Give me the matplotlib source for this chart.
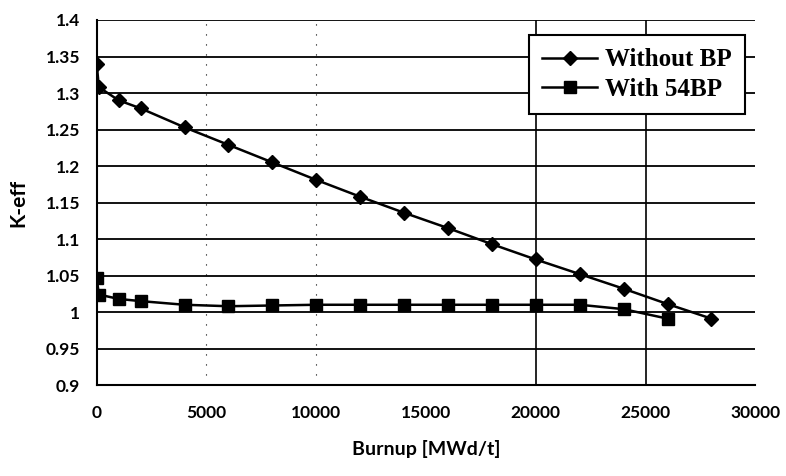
import matplotlib
matplotlib.use("Agg")
import matplotlib.pyplot as plt

# burnup [MWd/t] and k-eff
burnup_nobp = [0, 100, 1000, 2000, 4000, 6000, 8000, 10000, 12000, 14000,
               16000, 18000, 20000, 22000, 24000, 26000, 28000]
keff_nobp = [1.340, 1.308, 1.290, 1.279, 1.253, 1.229, 1.205, 1.181, 1.158,
             1.136, 1.115, 1.093, 1.072, 1.052, 1.032, 1.011, 0.991]

burnup_bp = [0, 100, 1000, 2000, 4000, 6000, 8000, 10000, 12000, 14000,
             16000, 18000, 20000, 22000, 24000, 26000]
keff_bp = [1.047, 1.024, 1.018, 1.015, 1.010, 1.008, 1.009, 1.010, 1.010,
           1.010, 1.010, 1.010, 1.010, 1.010, 1.004, 0.991]

xticks = [0, 5000, 10000, 15000, 20000, 25000, 30000]
yticks = [0.9, 0.95, 1, 1.05, 1.1, 1.15, 1.2, 1.25, 1.3, 1.35, 1.4]
ytick_labels = ["0.9", "0.95", "1", "1.05", "1.1", "1.15", "1.2", "1.25", "1.3", "1.35", "1.4"]

sans = ["Lato", "DejaVu Sans"]
tick_font = {"family": sans, "weight": "bold", "size": 12.5}

fig = plt.figure(figsize=(7.86, 4.76), dpi=100)
ax = fig.add_axes([0.123, 0.191, 0.838, 0.767])

ax.plot(burnup_nobp, keff_nobp, color="black", lw=1.8, marker="D", ms=7,
        label="Without BP", zorder=3)
ax.plot(burnup_bp, keff_bp, color="black", lw=1.8, marker="s", ms=8,
        label="With 54BP", zorder=3)

ax.set_xlim(0, 30000)
ax.set_ylim(0.9, 1.4)
ax.set_xticks(xticks)
ax.set_yticks(yticks)
ax.set_xticklabels([str(t) for t in xticks], fontdict=tick_font)
ax.set_yticklabels(ytick_labels, fontdict=tick_font)
ax.tick_params(axis="x", length=0, pad=14)
ax.tick_params(axis="y", length=0, pad=12)

# horizontal grid solid; vertical grid lines faint except the last two
ax.yaxis.grid(True, color="black", lw=1.3)
for x in xticks[1:-1]:
    if x >= 20000:
        ax.axvline(x, color="black", lw=1.2, zorder=1)
    elif x <= 10000:
        ax.axvline(x, color="black", lw=0.8, ls=(0, (1, 8)), zorder=1)

for side in ["top", "right"]:
    ax.spines[side].set_visible(False)
ax.spines["left"].set_linewidth(1.5)
ax.spines["bottom"].set_linewidth(1.5)

ax.set_xlabel("Burnup [MWd/t]", fontdict={"family": sans, "weight": "bold", "size": 14},
              labelpad=14)
ax.set_ylabel("K-eff", fontdict={"family": sans, "weight": "bold", "size": 15},
              labelpad=12)

leg = ax.legend(loc="upper right", bbox_to_anchor=(0.985, 0.96), borderaxespad=0,
                frameon=True, fancybox=False, edgecolor="black", framealpha=1,
                borderpad=0.55, handlelength=2.2, handletextpad=0.3,
                labelspacing=0.25, numpoints=1,
                prop={"family": ["Liberation Serif", "DejaVu Serif"], "weight": "bold", "size": 18})
leg.get_frame().set_linewidth(1.5)

fig.savefig("out.png", dpi=100)
